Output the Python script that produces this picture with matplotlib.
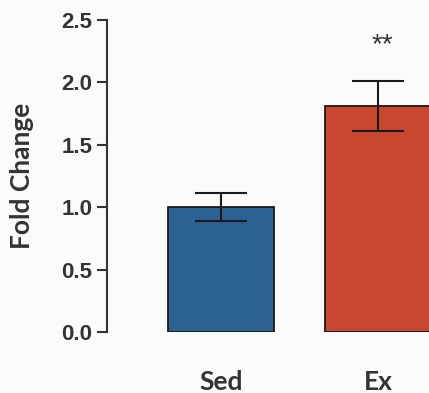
import matplotlib
matplotlib.use('Agg')
from matplotlib import pyplot as plt

# data
groups = ['Sed', 'Ex']
means = [1.0, 1.81]
errors = [0.11, 0.20]
bar_colors = ['#2b6193', '#c8482f']
yticks = [0.0, 0.5, 1.0, 1.5, 2.0, 2.5]

fig = plt.figure(figsize=(4.29, 3.93), dpi=100, facecolor='#fbfbfb')
ax = fig.add_axes([107/429, 1 - 332/393, 1 - 107/429, (332 - 20)/393])
ax.set_facecolor('#fbfbfb')

x = list(range(len(groups)))
ax.bar(x, means, width=0.675, color=bar_colors, edgecolor='#1a1a1a', linewidth=1.3, zorder=2)
ax.errorbar(x, means, yerr=errors, fmt='none', ecolor='#1a1a1a', elinewidth=1.5,
            capsize=19, capthick=1.5, zorder=3)

# significance mark
ax.text(1.025, 2.3, '**', ha='center', va='center', fontsize=20,
        family='Liberation Sans', color='#333333')

ax.set_xlim(-0.726, 1.325)
ax.set_ylim(0, 2.5)
ax.set_yticks(yticks)
ax.set_yticklabels(['%.1f' % t for t in yticks], fontsize=16,
                   family='Liberation Sans', fontweight='bold', color='#333333')
ax.set_xticks(x)
ax.set_xticklabels(groups, fontsize=19, family='Lato', fontweight='bold', color='#333333')

ax.set_ylabel('Fold Change', fontsize=19, family='Lato', fontweight='bold', color='#333333')
ax.yaxis.set_label_coords(-(107 - 34)/322, 0.5)

for side in ['top', 'right', 'bottom']:
    ax.spines[side].set_visible(False)
ax.spines['left'].set_color('#333333')
ax.spines['left'].set_linewidth(1.5)
ax.tick_params(axis='y', direction='out', length=7.5, width=1.5, color='#333333', pad=3)
ax.tick_params(axis='x', length=0, pad=27)

fig.savefig('out.png', dpi=100, facecolor=fig.get_facecolor())
